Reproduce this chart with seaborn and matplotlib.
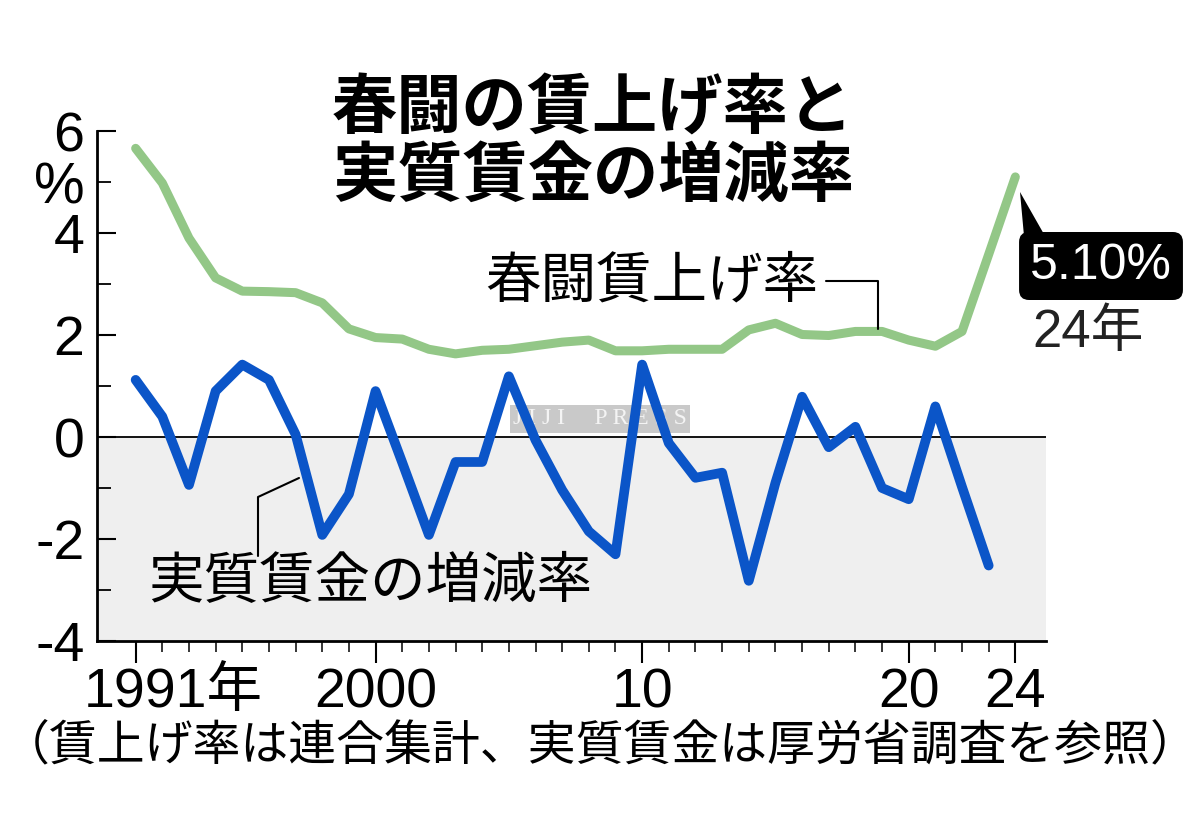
import matplotlib
matplotlib.use("Agg")
import matplotlib.pyplot as plt
import seaborn as sns
import pandas as pd
from matplotlib.patches import Polygon
from matplotlib.lines import Line2D
from matplotlib.transforms import ScaledTranslation

# ---- data ----
years = list(range(1991, 2025))
shunto_rate = [5.66, 4.98, 3.90, 3.12, 2.86, 2.85, 2.83, 2.63, 2.12, 1.95,
               1.92, 1.72, 1.63, 1.70, 1.72, 1.79, 1.86, 1.90, 1.69, 1.69,
               1.72, 1.72, 1.72, 2.10, 2.23, 2.01, 1.99, 2.07, 2.07, 1.90,
               1.78, 2.07, 3.58, 5.10]
real_wage_years = list(range(1991, 2024))
real_wage_change = [1.12, 0.40, -0.94, 0.90, 1.42, 1.12, 0.05, -1.92, -1.12, 0.90,
                    -0.50, -1.92, -0.49, -0.49, 1.19, -0.06, -1.04, -1.85, -2.30, 1.42,
                    -0.12, -0.80, -0.70, -2.82, -0.90, 0.79, -0.20, 0.20, -1.00, -1.22,
                    0.60, -0.98, -2.52]
x_major = [1991, 2000, 2010, 2020, 2024]
x_major_labels = ["1991年", "2000", "10", "20", "24"]
y_major = [-4, -2, 0, 2, 4, 6]
y_major_labels = ["-4", "-2", "0", "2", "4", "6"]
y_minor = [-3, -1, 1, 3, 5]
y_minor_labels = ["", "", "", "", "%"]
title_text = "春闘の賃上げ率と\n実質賃金の増減率"
label_shunto = "春闘賃上げ率"
label_real = "実質賃金の増減率"
note_text = "（賃上げ率は連合集計、実質賃金は厚労省調査を参照）"
last_value_text = "5.10%"
last_year_text = "24年"

GREEN = "#93c787"
BLUE = "#0b55c8"
CJK = ["Noto Sans CJK JP", "DejaVu Sans"]
NUM = ["Liberation Sans", "Noto Sans CJK JP", "DejaVu Sans"]

sns.set_theme(style="white")
plt.rcParams["font.family"] = NUM

df_s = pd.DataFrame({"year": years, "value": shunto_rate})
df_r = pd.DataFrame({"year": real_wage_years, "value": real_wage_change})

fig = plt.figure(figsize=(12, 8.4), dpi=100)
W, H = 1200, 840
def fx(px):
    return px / W
def fy(py):
    return 1 - py / H

ax = fig.add_axes([fx(97), fy(641), (1046 - 97) / W, (641 - 131) / H])
ax.set_xlim(1989.55, 2025.15)
ax.set_ylim(-4, 6)

ax.axhspan(-4, 0, color="#efefef", zorder=0, lw=0)
ax.axhline(0, color="black", lw=1.3, zorder=1)

sns.lineplot(data=df_s, x="year", y="value", ax=ax, color=GREEN, lw=6.5,
             solid_capstyle="round", solid_joinstyle="round", zorder=3)
sns.lineplot(data=df_r, x="year", y="value", ax=ax, color=BLUE, lw=7,
             solid_capstyle="round", solid_joinstyle="round", zorder=4)
ax.set_xlabel("")
ax.set_ylabel("")

for s in ["top", "right"]:
    ax.spines[s].set_visible(False)
for s in ["left", "bottom"]:
    ax.spines[s].set_color("black")
    ax.spines[s].set_linewidth(2)

ax.set_xticks(x_major)
ax.set_xticklabels(x_major_labels)
ax.set_xticks(years, minor=True)
ax.set_yticks(y_major)
ax.set_yticklabels(y_major_labels)
ax.set_yticks(y_minor, minor=True)
ax.set_yticklabels(y_minor_labels, minor=True)

ax.tick_params(axis="x", which="major", direction="out", length=16, width=1.5,
               pad=3, labelsize=40, colors="black", bottom=True)
ax.tick_params(axis="x", which="minor", direction="out", length=8, width=1.3,
               bottom=True)
ax.tick_params(axis="y", which="major", direction="in", length=14, width=1.5,
               pad=9, labelsize=40, colors="black", left=True)
ax.tick_params(axis="y", which="minor", direction="in", length=10, width=1.3,
               pad=9, labelsize=41, colors="black", left=True)

first = ax.get_xticklabels()[0]
first.set_ha("left")
first.set_transform(first.get_transform() + ScaledTranslation(-0.52, 0, fig.dpi_scale_trans))

# watermark
ax.text(fx(600), fy(419), "J I J I     P R E S S", transform=fig.transFigure,
        ha="center", va="center", fontsize=17, color="#f4f4f4",
        family=["Liberation Serif"], zorder=1.5,
        bbox=dict(boxstyle="square,pad=0.15", fc="#c9c9c9", ec="none"))

# title
fig.text(fx(593), fy(143), title_text, ha="center", va="center", fontsize=47,
         fontweight="bold", family=CJK, linespacing=1.0, color="black")

# series labels with leader lines
fig.text(fx(485), fy(282), label_shunto, ha="left", va="center", fontsize=40,
         family=CJK, color="black")
fig.add_artist(Line2D([fx(826), fx(878), fx(878)], [fy(281), fy(281), fy(329)],
                      transform=fig.transFigure, color="black", lw=1.5))
fig.text(fx(148), fy(582), label_real, ha="left", va="center", fontsize=40,
         family=CJK, color="black")
fig.add_artist(Line2D([fx(258), fx(258), fx(299)], [fy(556), fy(497), fy(478)],
                      transform=fig.transFigure, color="black", lw=1.5))

# last value callout
fig.text(fx(1101), fy(266), last_value_text, ha="center", va="center", fontsize=36,
         color="white", family=NUM,
         bbox=dict(boxstyle="round,pad=0.22,rounding_size=0.2", fc="black", ec="none"))
fig.add_artist(Polygon([(fx(1020), fy(192)), (fx(1024), fy(236)), (fx(1045), fy(236))],
                       closed=True, transform=fig.transFigure, fc="black", ec="none"))
fig.text(fx(1088), fy(333), last_year_text, ha="center", va="center", fontsize=38,
         family=NUM, color="#222222")

# note
fig.text(fx(600), fy(746), note_text, ha="center", va="center", fontsize=34.5,
         family=CJK, color="black")

fig.savefig("out.png", dpi=100, facecolor="white")
